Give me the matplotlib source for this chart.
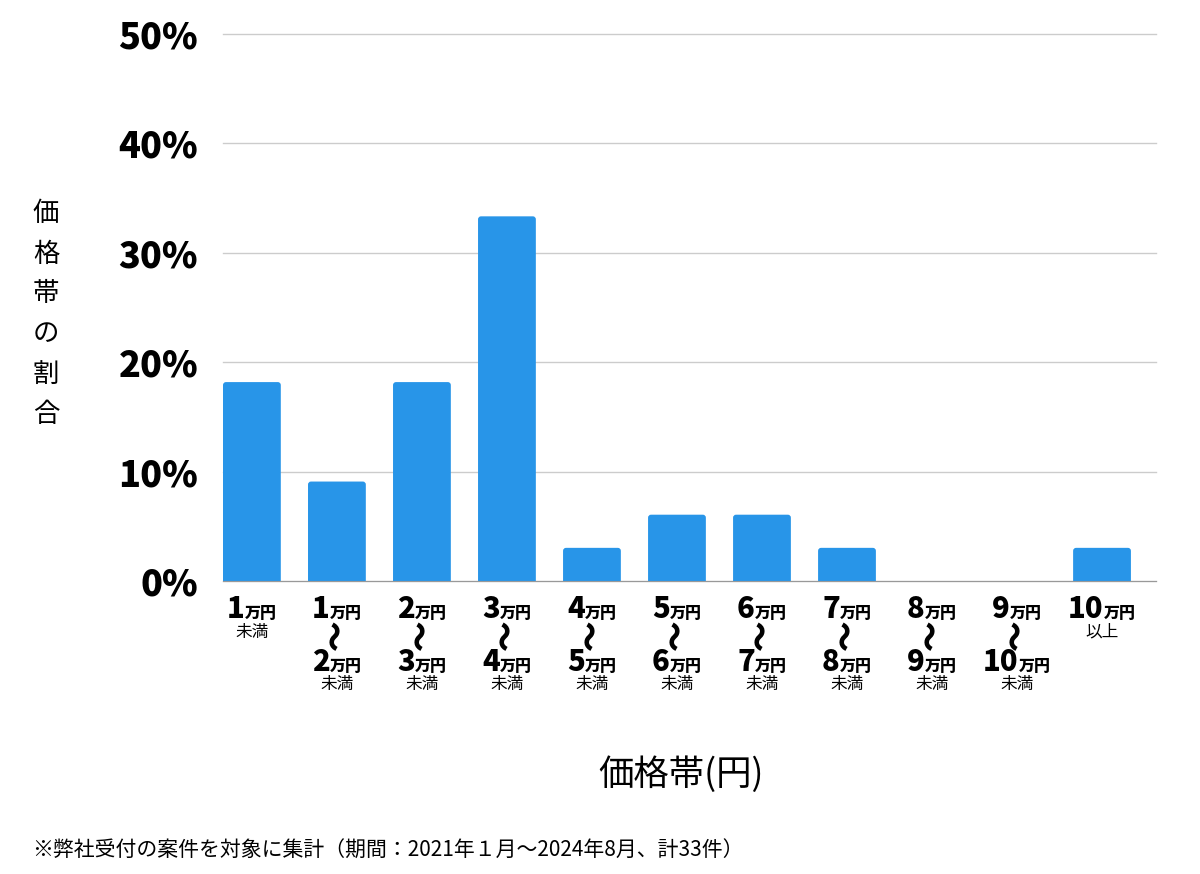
import matplotlib
matplotlib.use('Agg')
import matplotlib.pyplot as plt
from matplotlib.patches import FancyBboxPatch

plt.rcParams['font.family'] = ['Noto Sans CJK JP', 'DejaVu Sans']

# data: 33件のうちの割合
counts = [6, 3, 6, 11, 1, 2, 2, 1, 0, 0, 1]
total = 33
shares = [c / total * 100 for c in counts]
lower = ['1', '1', '2', '3', '4', '5', '6', '7', '8', '9', '10']
upper = [None, '2', '3', '4', '5', '6', '7', '8', '9', '10', None]
suffix = ['未満', '未満', '未満', '未満', '未満', '未満', '未満', '未満', '未満', '未満', '以上']
yticks = [0, 10, 20, 30, 40, 50]
ytick_labels = ['0%', '10%', '20%', '30%', '40%', '50%']

bar_color = '#2895e8'

fig = plt.figure(figsize=(12, 8.74), dpi=100)
W, H = 1200, 874
ax_l, ax_r, ax_t, ax_b = 223, 1156, 34, 581
ax = fig.add_axes([ax_l / W, 1 - ax_b / H, (ax_r - ax_l) / W, (ax_b - ax_t) / H])

xs = list(range(len(shares)))
bars = ax.bar(xs, shares, width=0.68, color=bar_color, zorder=2)

# rounded top corners
px_x = (ax_r - ax_l) / 10.975
px_y = (ax_b - ax_t) / 50
for b in bars:
    b.set_visible(False)
    if b.get_height() <= 0:
        continue
    r = 3 / px_x
    p = FancyBboxPatch((b.get_x(), -2), b.get_width(), b.get_height() + 2,
                       boxstyle=f'round,pad=0,rounding_size={r}',
                       mutation_aspect=px_x / px_y,
                       facecolor=bar_color, edgecolor='none', zorder=2)
    ax.add_patch(p)

ax.set_xlim(-0.34, 10.635)
ax.set_ylim(0, 50)
ax.set_yticks(yticks)
ax.set_yticklabels(ytick_labels, fontsize=26, fontweight='black')
ax.tick_params(axis='y', length=0, pad=18)
ax.set_xticks([])
ax.grid(axis='y', color='#cccccc', linewidth=1, zorder=0)
for s in ['top', 'right', 'left']:
    ax.spines[s].set_visible(False)
ax.spines['bottom'].set_color('#999999')
ax.spines['bottom'].set_zorder(3)
for gl in ax.get_ygridlines():
    gl.set_clip_on(False)

trans = ax.get_xaxis_transform()
renderer = fig.canvas.get_renderer()


def yf(py):
    return (ax_b - py) / (ax_b - ax_t)


def amount(x, py, num):
    # 数字 + 万円 を中央揃えで描く
    t1 = ax.text(x, yf(py), num, transform=trans, fontsize=21, fontweight='black',
                 ha='right', va='baseline')
    t2 = ax.text(x, yf(py), '万円', transform=trans, fontsize=11.5, fontweight='black',
                 ha='left', va='baseline')
    w1 = t1.get_window_extent(renderer).width
    w2 = t2.get_window_extent(renderer).width
    shift = (w1 - w2) / 2 / px_x
    t1.set_x(x + shift)
    t2.set_x(x + shift)


for i in xs:
    amount(i, 618, lower[i])
    if upper[i] is None:
        ax.text(i, yf(632), suffix[i], transform=trans, fontsize=12,
                ha='center', va='center')
    else:
        ax.text(i, yf(635), '〜', transform=trans, fontsize=22, fontweight='black',
                rotation=90, ha='center', va='center')
        amount(i, 671, upper[i])
        ax.text(i, yf(684), suffix[i], transform=trans, fontsize=12,
                ha='center', va='center')

fig.text(46 / W, 1 - 314 / H, '\n'.join('価格帯の割合'), fontsize=19,
         ha='center', va='center', linespacing=1.62)
fig.text(681 / W, 1 - 775 / H, '価格帯(円)', fontsize=25.5, ha='center', va='center')
fig.text(32 / W, 1 - 851 / H,
         '※弊社受付の案件を対象に集計（期間：2021年１月〜2024年8月、計33件）',
         fontsize=15, ha='left', va='center')

fig.savefig('out.png', dpi=100, facecolor='white')
